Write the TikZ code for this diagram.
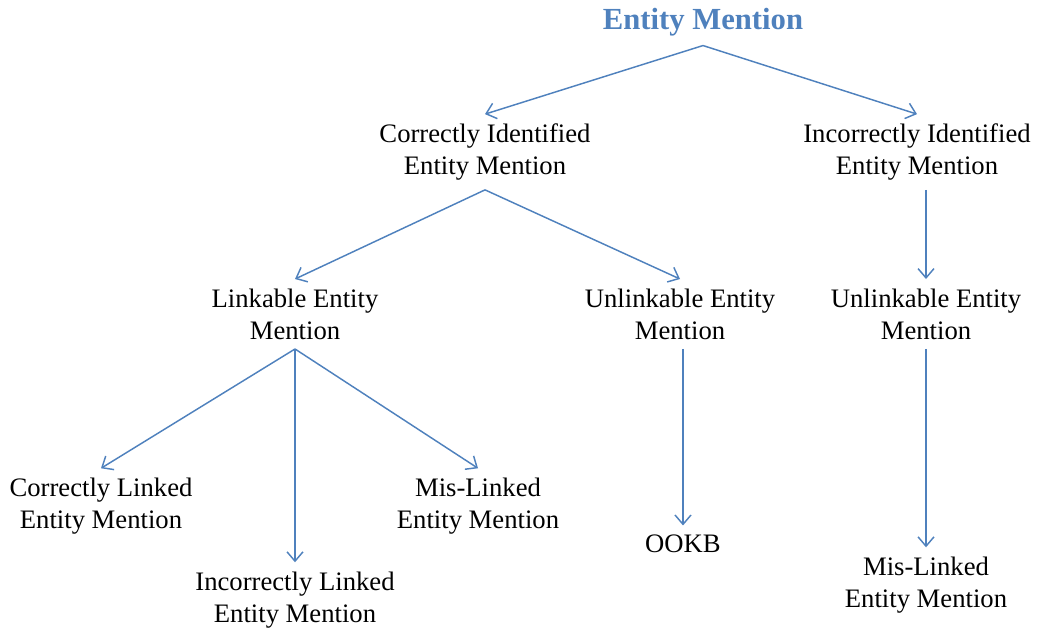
\documentclass[tikz,border=0pt]{standalone}
\usepackage{fontspec}
\setmainfont{Liberation Serif}
\usetikzlibrary{arrows.meta}
\definecolor{linkblue}{HTML}{4F81BD}
\begin{document}
\begin{tikzpicture}[x=0.75pt,y=-0.75pt,
  label/.style={align=center,inner xsep=2pt,inner ysep=7pt,
    font=\fontsize{20}{24}\selectfont},
  heading/.style={inner sep=7pt,text=linkblue,
    font=\fontsize{23}{27}\selectfont\bfseries},
  arr/.style={draw=linkblue,line width=1.1pt,
    -{Straight Barb[length=7pt,width=12pt,line width=1.1pt]}}]
\useasboundingbox (0,0) rectangle (1037,631);

% tree nodes
\node[heading] (root) at (703,22) {Entity Mention};
\node[label] (ci)  at (485,152) {Correctly Identified\\Entity Mention};
\node[label] (ii)  at (917,152) {Incorrectly Identified\\Entity Mention};
\node[label] (le)  at (295,314) {Linkable Entity\\Mention};
\node[label] (ue)  at (680,314) {Unlinkable Entity\\Mention};
\node[label] (ue2) at (926,314) {Unlinkable Entity\\Mention};
\node[label] (cl)  at (101,506) {Correctly Linked\\Entity Mention};
\node[label] (ml)  at (478,506) {Mis-Linked\\Entity Mention};
\node[label] (il)  at (295,600) {Incorrectly Linked\\Entity Mention};
\node[label] (ookb) at (683,544) {OOKB};
\node[label] (ml2) at (926,585) {Mis-Linked\\Entity Mention};

% connectors
\draw[arr] (root.south) -- (ci.north);
\draw[arr] (root.south) -- (ii.north);
\draw[arr] (ci.south) -- (le.north);
\draw[arr] (ci.south) -- (ue.north);
\draw[arr] (ii.south -| ue2.north) -- (ue2.north);
\draw[arr] (le.south) -- (cl.north);
\draw[arr] (le.south) -- (il.north);
\draw[arr] (le.south) -- (ml.north);
\draw[arr] (ue.south -| ookb.north) -- (ookb.north);
\draw[arr] (ue2.south) -- (ml2.north);
\end{tikzpicture}
\end{document}
